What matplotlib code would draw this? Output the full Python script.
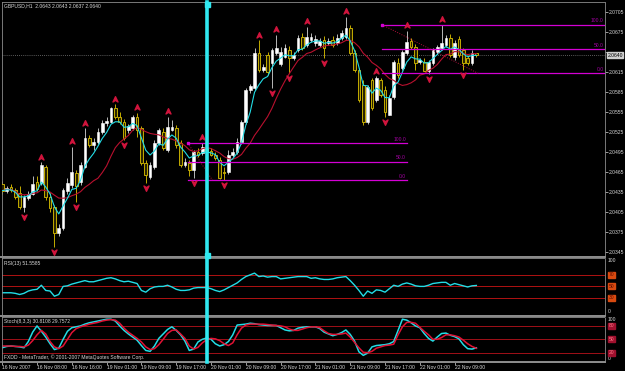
import numpy as np
import pandas as pd
import matplotlib
matplotlib.use("Agg")
import matplotlib.pyplot as plt
from matplotlib.lines import Line2D
from matplotlib.path import Path
import matplotlib.transforms as mtransforms


# GBPUSD H1 bars, 16 Nov 2007 -> 22 Nov 2007
opens = [2.0447, 2.0437, 2.0443, 2.0438, 2.0434, 2.0413, 2.0426, 2.0432, 2.0450, 2.0449,
         2.0473, 2.0428, 2.0413, 2.0374, 2.0381, 2.0437, 2.0446, 2.0464, 2.0450, 2.0473,
         2.0516, 2.0506, 2.0510, 2.0525, 2.0539, 2.0540, 2.0561, 2.0548, 2.0540, 2.0528,
         2.0531, 2.0548, 2.0531, 2.0479, 2.0458, 2.0473, 2.0509, 2.0525, 2.0498, 2.0528,
         2.0531, 2.0509, 2.0476, 2.0479, 2.0468, 2.0495, 2.0494, 2.0501, 2.0497, 2.0491,
         2.0483, 2.0465, 2.0465, 2.0491, 2.0495, 2.0510, 2.0540, 2.0588, 2.0591, 2.0644,
         2.0618, 2.0641, 2.0629, 2.0644, 2.0627, 2.0638, 2.0648, 2.0636, 2.0648, 2.0668,
         2.0656, 2.0663, 2.0659, 2.0656, 2.0663, 2.0659, 2.0663, 2.0659, 2.0666, 2.0668,
         2.0681, 2.0644, 2.0618, 2.0596, 2.0540, 2.0603, 2.0573, 2.0603, 2.0588, 2.0551,
         2.0578, 2.0629, 2.0621, 2.0644, 2.0662, 2.0653, 2.0630, 2.0630, 2.0617, 2.0629,
         2.0645, 2.0651, 2.0656, 2.0666, 2.0638, 2.0665, 2.0648, 2.0636, 2.0629, 2.0643]

highs = [2.0452, 2.0444, 2.0447, 2.0441, 2.0444, 2.0431, 2.0437, 2.0459, 2.0459, 2.0480,
         2.0476, 2.0434, 2.0416, 2.0387, 2.0441, 2.0456, 2.0503, 2.0468, 2.0480, 2.0531,
         2.0521, 2.0516, 2.0531, 2.0543, 2.0548, 2.0563, 2.0567, 2.0555, 2.0545, 2.0537,
         2.0551, 2.0554, 2.0534, 2.0483, 2.0480, 2.0513, 2.0531, 2.0531, 2.0548, 2.0543,
         2.0536, 2.0513, 2.0486, 2.0483, 2.0498, 2.0501, 2.0509, 2.0506, 2.0501, 2.0495,
         2.0488, 2.0473, 2.0498, 2.0501, 2.0516, 2.0543, 2.0591, 2.0597, 2.0651, 2.0663,
         2.0627, 2.0645, 2.0651, 2.0671, 2.0653, 2.0657, 2.0654, 2.0645, 2.0671, 2.0674,
         2.0683, 2.0674, 2.0671, 2.0666, 2.0669, 2.0666, 2.0669, 2.0672, 2.0678, 2.0698,
         2.0686, 2.0648, 2.0621, 2.0603, 2.0596, 2.0606, 2.0609, 2.0606, 2.0594, 2.0581,
         2.0633, 2.0636, 2.0648, 2.0677, 2.0666, 2.0657, 2.0636, 2.0636, 2.0633, 2.0651,
         2.0656, 2.0686, 2.0671, 2.0672, 2.0663, 2.0669, 2.0651, 2.0641, 2.0648, 2.0643]

lows = [2.0432, 2.0434, 2.0435, 2.0425, 2.0410, 2.0405, 2.0423, 2.0431, 2.0437, 2.0446,
        2.0423, 2.0405, 2.0353, 2.0369, 2.0378, 2.0432, 2.0441, 2.0420, 2.0446, 2.0471,
        2.0503, 2.0498, 2.0507, 2.0522, 2.0534, 2.0539, 2.0545, 2.0537, 2.0513, 2.0524,
        2.0528, 2.0518, 2.0476, 2.0449, 2.0455, 2.0470, 2.0506, 2.0498, 2.0495, 2.0527,
        2.0501, 2.0473, 2.0473, 2.0459, 2.0456, 2.0488, 2.0491, 2.0494, 2.0489, 2.0483,
        2.0455, 2.0453, 2.0462, 2.0488, 2.0492, 2.0507, 2.0537, 2.0584, 2.0588, 2.0615,
        2.0615, 2.0611, 2.0591, 2.0641, 2.0624, 2.0636, 2.0614, 2.0633, 2.0645, 2.0648,
        2.0653, 2.0660, 2.0654, 2.0653, 2.0636, 2.0656, 2.0653, 2.0656, 2.0663, 2.0665,
        2.0641, 2.0615, 2.0570, 2.0536, 2.0537, 2.0558, 2.0570, 2.0578, 2.0548, 2.0550,
        2.0575, 2.0606, 2.0618, 2.0641, 2.0650, 2.0618, 2.0627, 2.0616, 2.0612, 2.0626,
        2.0642, 2.0648, 2.0653, 2.0638, 2.0633, 2.0638, 2.0618, 2.0626, 2.0626, 2.0637]

closes = [2.0437, 2.0441, 2.0438, 2.0428, 2.0413, 2.0428, 2.0432, 2.0447, 2.0440, 2.0476,
          2.0428, 2.0411, 2.0374, 2.0381, 2.0438, 2.0449, 2.0465, 2.0444, 2.0476, 2.0516,
          2.0506, 2.0510, 2.0525, 2.0539, 2.0542, 2.0561, 2.0548, 2.0540, 2.0516, 2.0534,
          2.0548, 2.0528, 2.0479, 2.0461, 2.0476, 2.0509, 2.0528, 2.0501, 2.0533, 2.0533,
          2.0506, 2.0476, 2.0480, 2.0468, 2.0495, 2.0491, 2.0503, 2.0497, 2.0491, 2.0486,
          2.0456, 2.0464, 2.0491, 2.0495, 2.0510, 2.0540, 2.0588, 2.0594, 2.0644, 2.0618,
          2.0623, 2.0615, 2.0648, 2.0651, 2.0645, 2.0651, 2.0636, 2.0640, 2.0666, 2.0651,
          2.0668, 2.0668, 2.0665, 2.0662, 2.0651, 2.0662, 2.0656, 2.0666, 2.0674, 2.0681,
          2.0644, 2.0618, 2.0573, 2.0540, 2.0593, 2.0561, 2.0606, 2.0581, 2.0555, 2.0576,
          2.0630, 2.0611, 2.0645, 2.0660, 2.0653, 2.0629, 2.0633, 2.0617, 2.0630, 2.0648,
          2.0653, 2.0659, 2.0666, 2.0641, 2.0659, 2.0641, 2.0629, 2.0629, 2.0644, 2.0640]

# bars marked by the fractal arrows
frac_up = [9, 16, 19, 26, 31, 38, 46, 59, 63, 70, 79, 86, 93, 101]
frac_dn = [5, 12, 17, 28, 33, 44, 51, 62, 66, 74, 88, 98, 106]

rsi_vals = [39, 39, 39, 38, 36, 38, 42, 44, 45, 52,
            43, 42, 33, 36, 50, 51, 54, 56, 58, 60,
            58, 58, 60, 62, 64, 65, 63, 60, 58, 59,
            57, 55, 43, 40, 46, 49, 50, 50, 52, 49,
            45, 43, 43, 44, 47, 48, 48, 48, 46, 43,
            41, 44, 48, 52, 56, 62, 67, 70, 73, 67,
            68, 66, 67, 67, 63, 64, 65, 66, 67, 67,
            67, 64, 65, 63, 62, 62, 63, 65, 66, 67,
            60, 52, 43, 33, 42, 38, 44, 43, 40, 46,
            52, 50, 54, 56, 54, 51, 50, 50, 52, 55,
            56, 57, 57, 52, 55, 53, 51, 49, 51, 51.6]

stoch_k = [31, 34, 35, 34, 33, 31, 45, 66, 80, 68,
           55, 40, 27, 30, 50, 68, 76, 78, 80, 84,
           87, 89, 91, 93, 95, 95, 91, 80, 70, 62,
           55, 48, 36, 25, 23, 35, 52, 62, 72, 78,
           70, 60, 46, 25, 28, 44, 50, 53, 50, 40,
           35, 38, 45, 60, 82, 83, 84, 86, 85, 83,
           82, 81, 81, 81, 76, 71, 69, 70, 75, 77,
           78, 78, 78, 74, 66, 62, 58, 61, 65, 71,
           61, 46, 22, 14, 19, 33, 36, 37, 38, 40,
           45, 70, 95, 93, 87, 80, 76, 63, 52, 46,
           55, 63, 64, 59, 56, 51, 38, 29, 28, 30.8]

stoch_d = [35, 35, 35, 34, 34, 33, 37, 47, 60, 70,
           62, 45, 33, 29, 35, 50, 65, 74, 78, 81,
           84, 86, 88, 91, 93, 94, 93, 86, 75, 66,
           59, 52, 44, 33, 27, 29, 38, 50, 63, 70,
           71, 62, 52, 35, 28, 32, 42, 49, 52, 51,
           47, 40, 36, 42, 60, 75, 82, 84, 84, 84,
           84, 83, 82, 81, 80, 78, 73, 70, 70, 73,
           76, 78, 78, 76, 69, 63, 61, 61, 62, 64,
           55, 43, 31, 21, 20, 23, 30, 33, 36, 37,
           39, 60, 78, 88, 88, 86, 77, 68, 60, 50,
           50, 54, 60, 60, 58, 55, 48, 40, 34, 29.8]

time_ticks = [0, 8, 16, 24, 32, 40, 48, 56, 64, 72, 80, 88, 96, 104]
time_labels = ["16 Nov 2007", "16 Nov 08:00", "16 Nov 16:00", "19 Nov 01:00",
               "19 Nov 09:00", "19 Nov 17:00", "20 Nov 01:00", "20 Nov 09:00",
               "20 Nov 17:00", "21 Nov 01:00", "21 Nov 09:00", "21 Nov 17:00",
               "22 Nov 01:00", "22 Nov 09:00"]

# fibonacci objects: (start bar, end bar, 100 level, 0 level)
fib_a = (42.7, 93.1, 2.0508, 2.0453)
fib_b = (87.3, 138.6, 2.0686, 2.0613)
fib_pcts = [100.0, 50.0, 0.0]

vline_bar = 47
bid_price = 2.0640
# 2.0645 sits under the bid box in the original, so it has no label there
price_ticks = [2.0345, 2.0375, 2.0405, 2.0435, 2.0465, 2.0495, 2.0525,
               2.0555, 2.0585, 2.0615, 2.0645, 2.0675, 2.0705]
rsi_levels = [70, 50, 30]
stoch_levels = [80, 50, 20]

title_main = "GBPUSD,H1  2.0643 2.0643 2.0637 2.0640"
title_rsi = "RSI(13) 51.5585"
title_stoch = "Stoch(8,3,3) 30.8108 29.7572"
copyright_txt = "FXDD - MetaTrader, \u00a9 2001-2007 MetaQuotes Software Corp."


W, H = 625, 371
TXT = "#d8d8d8"
GRID = "#8c8c8c"
FS = 3.6
CYAN = "#22dde6"
RED = "#d0143c"
BEAR_EDGE = "#c4ac00"
MAGENTA = "#d400d4"

plt.rcParams["font.family"] = ["Liberation Sans", "DejaVu Sans"]

fig = plt.figure(figsize=(W / 100, H / 100), dpi=100, facecolor="black")


def px_axes(x0, y0, x1, y1, **kw):
    return fig.add_axes([x0 / W, 1 - y1 / H, (x1 - x0) / W, (y1 - y0) / H], **kw)


ax = px_axes(2, 2, 605, 256)
ax_rsi = px_axes(2, 257.5, 605, 315.3, sharex=ax)
ax_st = px_axes(2, 317, 605, 361.6, sharex=ax)

for a in (ax, ax_rsi, ax_st):
    a.set_facecolor("black")
    for s in a.spines.values():
        s.set_color(GRID)
        s.set_linewidth(0.6)
    a.spines["right"].set_linestyle((0, (2, 1)))
    a.spines["top"].set_linestyle((0, (1, 1)))
    a.yaxis.tick_right()
    a.tick_params(axis="y", colors=TXT, labelsize=FS, length=2, width=0.5, pad=0.8)
    a.tick_params(axis="x", colors=TXT, labelsize=FS, length=2, width=0.5, pad=0.8)

ax.set_xlim(-0.05, 138.57)
ax.set_ylim(2.0339, 2.0720)

# --------------------------------------------------
# candles
# --------------------------------------------------
x = np.arange(len(closes))
o = np.array(opens)
h = np.array(highs)
l = np.array(lows)
c = np.array(closes)
up = c >= o

ax.vlines(x[up], l[up], h[up], color="#b8b8b8", lw=0.7, zorder=2)
ax.vlines(x[~up], l[~up], h[~up], color=BEAR_EDGE, lw=0.7, zorder=2)
ax.bar(x[up], c[up] - o[up], bottom=o[up], width=0.62,
       color="white", edgecolor="white", lw=0.4, zorder=3)
ax.bar(x[~up], o[~up] - c[~up], bottom=c[~up], width=0.62,
       color="#2a2400", edgecolor=BEAR_EDGE, lw=0.7, zorder=3)

# moving averages
close_s = pd.Series(closes)
fast_ma = close_s.ewm(span=5, adjust=False).mean()
slow_ma = close_s.rolling(13, min_periods=1).mean()
ax.plot(x, slow_ma, color="#b8102e", lw=0.8, zorder=4)
ax.plot(x, fast_ma, color=CYAN, lw=0.8, zorder=4)

# fractal arrows
arrow_verts = [(0, 1), (0.9, -0.9), (0, -0.3), (-0.9, -0.9), (0, 1)]
arrow_codes = [Path.MOVETO, Path.LINETO, Path.LINETO, Path.LINETO, Path.CLOSEPOLY]
arrow_up = Path(arrow_verts, arrow_codes)
arrow_dn = Path([(vx, -vy) for vx, vy in arrow_verts], arrow_codes)
ax.plot(frac_up, h[frac_up] + 0.0008, ls="none", marker=arrow_up, ms=4,
        color=RED, mec=RED, zorder=5)
ax.plot(frac_dn, l[frac_dn] - 0.0008, ls="none", marker=arrow_dn, ms=4,
        color=RED, mec=RED, zorder=5)

# bid line
ax.axhline(bid_price, color="#7a7a7a", lw=0.6, ls=(0, (1, 1.5)), zorder=1)

# fibonacci retracements
for x0, x1, p100, p0 in (fib_a, fib_b):
    for pct in fib_pcts:
        level = p0 + (p100 - p0) * pct / 100.0
        ax.plot([x0, x1], [level, level], color=MAGENTA, lw=0.9, zorder=4)
        ax.text(x1 - 0.3, level + 0.0002, f"{pct:.1f}", color="#a400a4",
                fontsize=FS, ha="right", va="bottom", zorder=6)
    ax.plot([x0], [p100], marker="s", ms=1.6, color=MAGENTA, zorder=6)

ax.plot([fib_a[0], 48.3], [fib_a[2], fib_a[3]], color="#b0103a", lw=0.7,
        ls=(0, (1, 1.5)), zorder=4)
ax.plot([fib_b[0], 109.4], [fib_b[2], fib_b[3]], color="#b0103a", lw=0.7,
        ls=(0, (1, 1.5)), zorder=4)

# price scale
ax.set_yticks(price_ticks)
ax.set_yticklabels(["" if abs(v - bid_price) < 0.001 else f"{v:.4f}"
                    for v in price_ticks])
ax.tick_params(axis="x", labelbottom=False, length=0)
ax.annotate(f"{bid_price:.4f}", xy=(1.0, bid_price),
            xycoords=("axes fraction", "data"), xytext=(1.6, 0),
            textcoords="offset points", fontsize=FS, color="black", va="center",
            ha="left", zorder=10, annotation_clip=False,
            bbox=dict(boxstyle="square,pad=0.12", fc="#d0d0d0", ec="#d0d0d0"))

# --------------------------------------------------
# RSI
# --------------------------------------------------
ax_rsi.set_ylim(0, 100)
for lv in rsi_levels:
    ax_rsi.axhline(lv, color="#b01212", lw=0.7)
ax_rsi.plot(x, rsi_vals, color=CYAN, lw=1.0)
ax_rsi.set_yticks([])
ax_rsi.tick_params(axis="x", labelbottom=False, length=0)
blend_r = mtransforms.blended_transform_factory(ax_rsi.transAxes, ax_rsi.transData)
ax_rsi.text(1.004, 99, "100", transform=blend_r, color=TXT, fontsize=FS, va="top")
ax_rsi.text(1.004, 2, "0", transform=blend_r, color=TXT, fontsize=FS, va="bottom")
for lv in rsi_levels:
    ax_rsi.text(1.006, lv, str(lv), transform=blend_r, color="#5a0a00",
                fontsize=FS, va="center",
                bbox=dict(boxstyle="square,pad=0.1", fc="#d84a10", ec="#d84a10"))

# --------------------------------------------------
# Stochastic
# --------------------------------------------------
ax_st.set_ylim(0, 100)
for lv in stoch_levels:
    ax_st.axhline(lv, color="#a01018", lw=0.7)
ax_st.plot(x, stoch_k, color=CYAN, lw=1.1)
ax_st.plot(x, stoch_d, color="#e01234", lw=1.1)
ax_st.set_yticks([])
blend_s = mtransforms.blended_transform_factory(ax_st.transAxes, ax_st.transData)
ax_st.text(1.004, 99, "100", transform=blend_s, color=TXT, fontsize=FS, va="top")
ax_st.text(1.004, 2, "0", transform=blend_s, color=TXT, fontsize=FS, va="bottom")
for lv in stoch_levels:
    ax_st.text(1.006, lv, str(lv), transform=blend_s, color="#ff7a8a",
               fontsize=FS, va="center",
               bbox=dict(boxstyle="square,pad=0.1", fc="#a0102e", ec="#a0102e"))

ax_st.set_xticks(time_ticks)
ax_st.set_xticklabels(time_labels)
for lbl in ax_st.get_xticklabels():
    lbl.set_ha("left")

# --------------------------------------------------
# panel separators, selected vertical line, captions
# --------------------------------------------------
for ysep in (256.7, 316.2, 362.3):
    fig.add_artist(Line2D([0, 605 / W], [1 - ysep / H, 1 - ysep / H],
                          color=GRID, lw=1.4, zorder=3))

vtrans = mtransforms.blended_transform_factory(ax.transData, fig.transFigure)
fig.add_artist(Line2D([vline_bar, vline_bar], [1 - 2 / H, 1 - 362 / H],
                      transform=vtrans, color="#30e8f0", lw=2.6, zorder=8))
fig.add_artist(Line2D([vline_bar, vline_bar], [1 - 4 / H, 1 - 255 / H],
                      transform=vtrans, ls="none", marker="s", ms=3.6,
                      color="#30e8f0", zorder=9))

fig.text(4 / W, 1 - 6 / H, title_main, fontsize=FS, color=TXT, va="center")
fig.text(4 / W, 1 - 263.5 / H, title_rsi, fontsize=FS, color=TXT, va="center")
fig.text(4 / W, 1 - 321.5 / H, title_stoch, fontsize=FS, color=TXT, va="center")
fig.text(4 / W, 1 - 357.5 / H, copyright_txt, fontsize=FS, color=TXT, va="center")

fig.savefig("out.png", dpi=100, facecolor="black")
